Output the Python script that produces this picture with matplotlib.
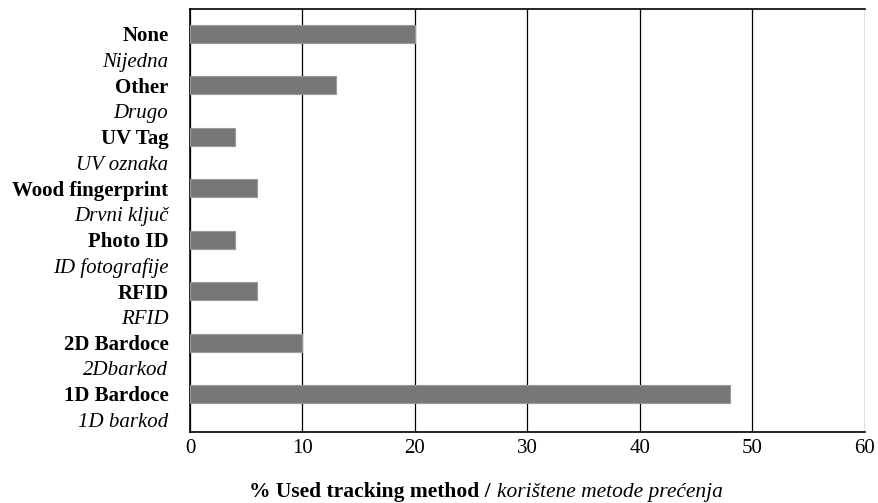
import matplotlib.pyplot as plt
import numpy as np

plt.rcParams['font.family'] = ['Liberation Serif', 'DejaVu Serif']

# categories top to bottom
labels_en = ['None', 'Other', 'UV Tag', 'Wood fingerprint', 'Photo ID', 'RFID',
             '2D Bardoce', '1D Bardoce']
labels_hr = ['Nijedna', 'Drugo', 'UV oznaka', 'Drvni ključ', 'ID fotografije', 'RFID',
             '2Dbarkod', '1D barkod']
values = [20, 13, 4, 6, 4, 6, 10, 48]
xticks = [0, 10, 20, 30, 40, 50, 60]

fig = plt.figure(figsize=(8.79, 5.03), dpi=100)
ax = fig.add_axes([190 / 879, 1 - 432 / 503, 675 / 879, 423 / 503])

pos = np.arange(len(values))
ax.barh(pos, values, height=0.35, color='#777777', edgecolor='#999999', linewidth=0.8, zorder=3)

ax.set_xlim(0, 60)
ax.set_ylim(7.74, -0.486)
ax.set_xticks(xticks)
ax.set_xticklabels([str(t) for t in xticks], fontsize=15)
ax.tick_params(axis='x', length=0, pad=5)
ax.grid(axis='x', color='black', linewidth=0.9, zorder=1)

ax.set_yticks(pos)
ax.set_yticklabels(labels_en, fontsize=15, fontweight='bold')
ax.set_yticks(pos + 0.5, minor=True)
ax.set_yticklabels(labels_hr, minor=True, fontsize=15, fontstyle='italic')
ax.tick_params(axis='y', which='both', length=0, pad=15.5)

for s in ['left', 'top', 'bottom']:
    ax.spines[s].set_color('black')
    ax.spines[s].set_linewidth(1.2)
ax.spines['right'].set_visible(False)

fig.text(491 / 879, 1 - 492 / 503, '% Used tracking method /', ha='right', va='center',
         fontsize=15.5, fontweight='bold')
fig.text(497 / 879, 1 - 492 / 503, 'korištene metode prećenja', ha='left', va='center',
         fontsize=15.5, fontstyle='italic')

fig.savefig('out.png', dpi=100)
